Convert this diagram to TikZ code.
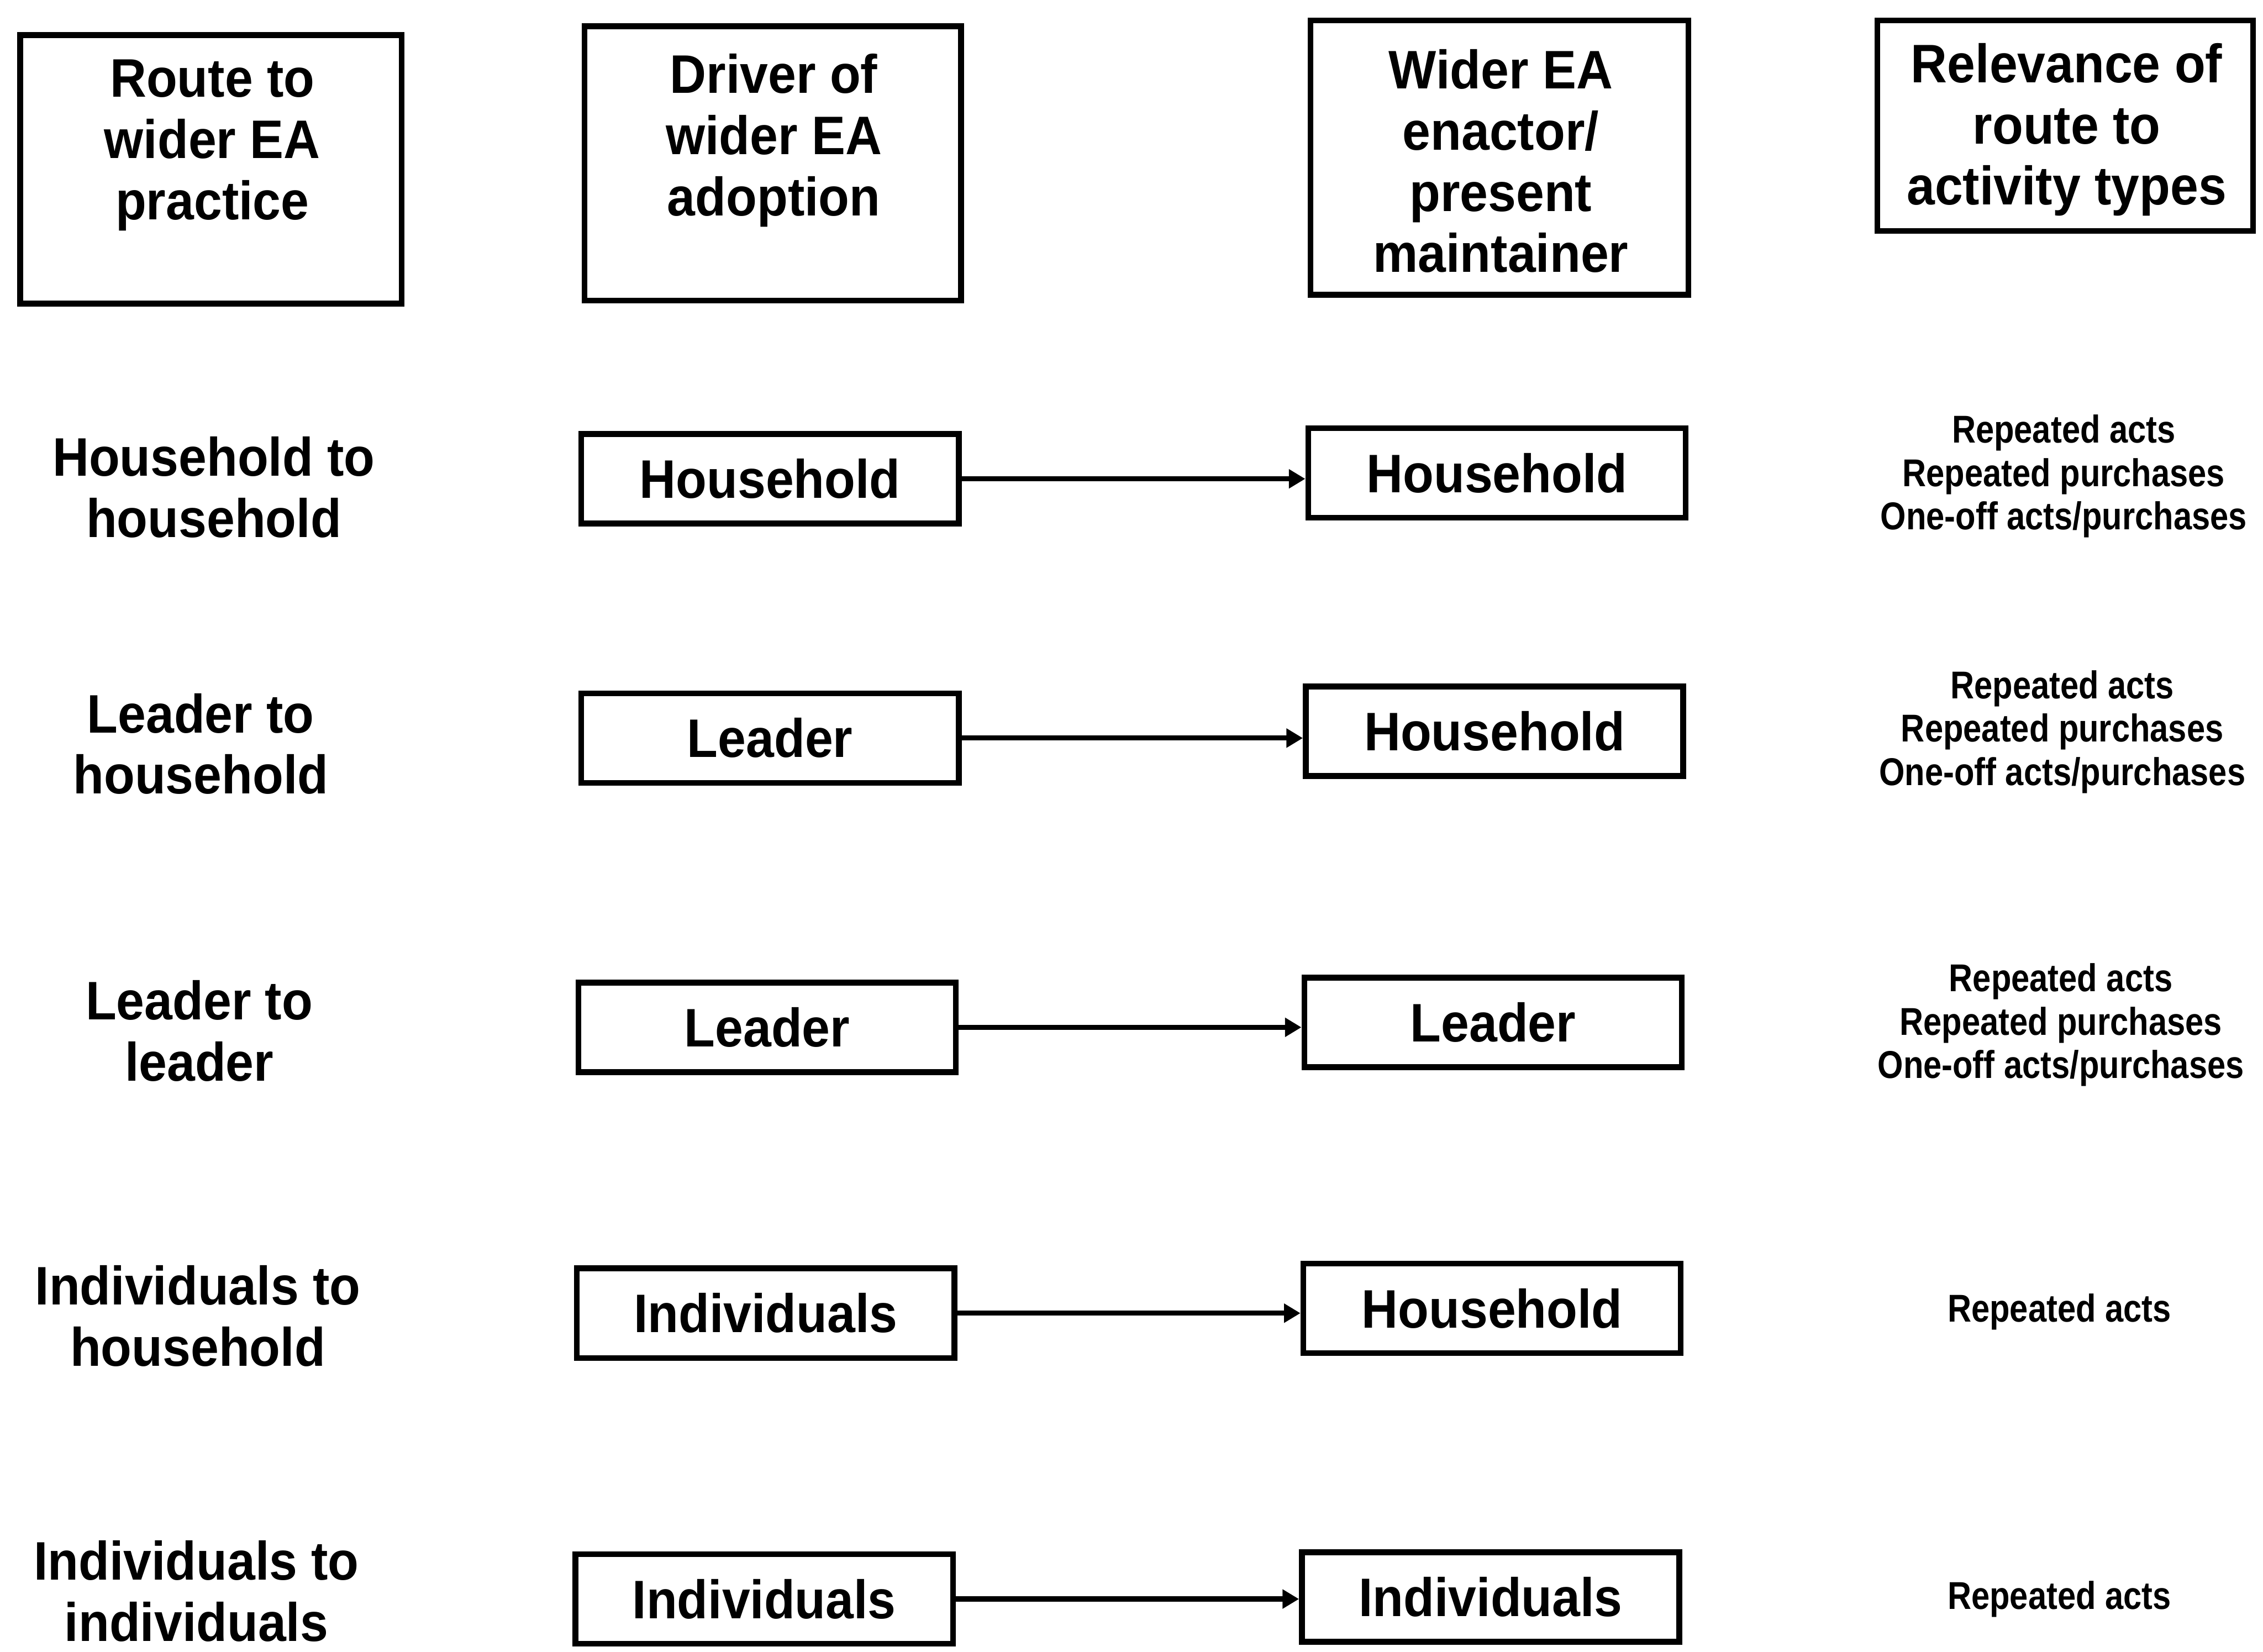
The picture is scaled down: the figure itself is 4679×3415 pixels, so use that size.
\documentclass[tikz,border=0pt]{standalone}
\usepackage{fontspec}
\setmainfont{Liberation Sans}
\newfontfamily\headfont{Liberation Sans}[FakeStretch=0.93]
\newfontfamily\notefont{Liberation Sans}[FakeStretch=0.85]
\usetikzlibrary{arrows.meta}

\tikzset{
  headbox/.style={draw, line width=3.4pt, rectangle, inner sep=0pt},
  bigtext/.style={font=\headfont\bfseries\fontsize{31.9}{36}\selectfont, align=center, inner sep=0pt},
  rowbox/.style={draw, line width=3.4pt, rectangle, minimum width=7.8cm, minimum height=1.85cm,
                 inner sep=0pt, font=\headfont\bfseries\fontsize{31.9}{36}\selectfont},
  note/.style={font=\notefont\bfseries\fontsize{22.8}{25.5}\selectfont, align=center, inner sep=0pt},
  link/.style={line width=3pt, -{Triangle[length=0.34cm,width=0.38cm]}}
}

\begin{document}
\begin{tikzpicture}[x=0.01cm, y=-0.01cm]
  \useasboundingbox[fill=white] (0,0) rectangle (4679,3415);

  % column headings
  \node[headbox, minimum width=7.88cm, minimum height=5.55cm] (h1) at (436,350) {};
  \node[headbox, minimum width=7.78cm, minimum height=5.67cm] (h2) at (1598,338) {};
  \node[headbox, minimum width=7.81cm, minimum height=5.67cm] (h3) at (3100,326) {};
  \node[headbox, minimum width=7.76cm, minimum height=4.35cm] (h4) at (4270,260) {};
  \node[bigtext] (h1t) at (439,300) {Route to\\wider EA\\practice};
  \node[bigtext] (h2t) at (1600,290) {Driver of\\wider EA\\adoption};
  \node[bigtext] (h3t) at (3103,333) {Wider EA\\enactor/\\present\\maintainer};
  \node[bigtext] (h4t) at (4273,268) {Relevance of\\route to\\activity types};

  % route names
  \node[bigtext] (r1) at (442,1007) {Household to\\household};
  \node[bigtext] (r2) at (415,1538) {Leader to\\household};
  \node[bigtext] (r3) at (412,2131) {Leader to\\leader};
  \node[bigtext] (r4) at (409,2721) {Individuals to\\household};
  \node[bigtext] (r5) at (406,3290) {Individuals to\\individuals};

  % drivers
  \node[rowbox] (d1) at (1592,990) {Household};
  \node[rowbox] (d2) at (1592,1526) {Leader};
  \node[rowbox] (d3) at (1586,2124) {Leader};
  \node[rowbox] (d4) at (1583,2715) {Individuals};
  \node[rowbox] (d5) at (1580,3306) {Individuals};

  % enactors / maintainers
  \node[rowbox] (e1) at (3095,978) {Household};
  \node[rowbox] (e2) at (3090,1512) {Household};
  \node[rowbox] (e3) at (3087,2114) {Leader};
  \node[rowbox] (e4) at (3085,2705) {Household};
  \node[rowbox] (e5) at (3082,3302) {Individuals};

  % driver -> enactor
  \foreach \i in {1,...,5}
    \draw[link] (d\i.east) -- (d\i.east -| e\i.west);

  % activity types
  \node[note] (a1) at (4267,985) {Repeated acts\\Repeated purchases\\One-off acts/purchases};
  \node[note] (a2) at (4264,1513) {Repeated acts\\Repeated purchases\\One-off acts/purchases};
  \node[note] (a3) at (4261,2119) {Repeated acts\\Repeated purchases\\One-off acts/purchases};
  \node[note] (a4) at (4258,2712) {Repeated acts};
  \node[note] (a5) at (4258,3306) {Repeated acts};
\end{tikzpicture}
\end{document}
